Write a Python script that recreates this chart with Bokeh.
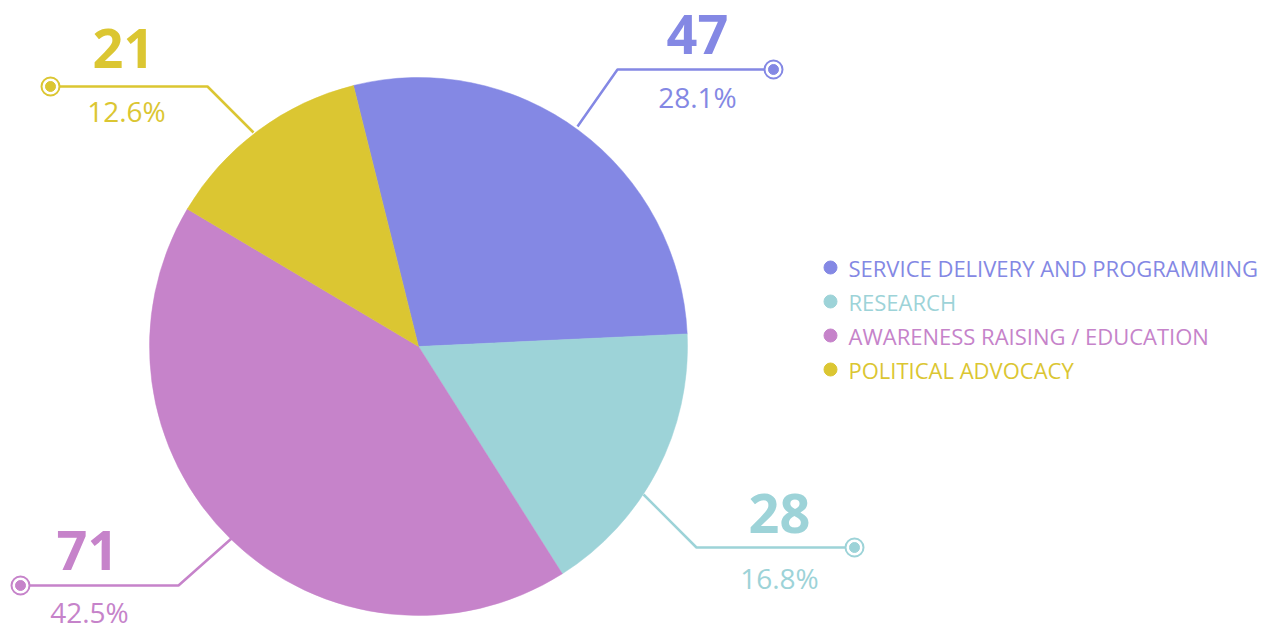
import math
from bokeh.plotting import figure
from bokeh.models import Range1d, ColumnDataSource
from bokeh.core.properties import value
from bokeh.embed import file_html
from bokeh.resources import INLINE

# ---- data ----
categories = ["SERVICE DELIVERY AND PROGRAMMING", "RESEARCH",
              "AWARENESS RAISING / EDUCATION", "POLITICAL ADVOCACY"]
counts = [47, 28, 71, 21]
colors = ["#8488e4", "#9dd3d8", "#c683ca", "#dbc632"]

total = sum(counts)
pcts = [f"{c / total * 100:.1f}%" for c in counts]

# ---- layout (picture pixel coordinates) ----
W, H = 1270, 627
def Y(y):
    return H - y

cx, cy, R = 418, 346, 269
start_deg = 346.0  # clockwise from top

p = figure(width=W, height=H, output_backend="svg", toolbar_location=None,
           x_range=Range1d(0, W), y_range=Range1d(0, H),
           min_border=0, outline_line_color=None)
p.axis.visible = False
p.grid.visible = False
p.background_fill_color = "white"

# pie wedges
starts, ends = [], []
acc = start_deg
for c in counts:
    a0 = acc
    a1 = acc + c / total * 360.0
    starts.append(math.radians(90 - a0))
    ends.append(math.radians(90 - a1))
    acc = a1
src = ColumnDataSource(dict(x=[cx] * 4, y=[Y(cy)] * 4, s=starts, e=ends, color=colors))
p.wedge(x="x", y="y", radius=R, start_angle="s", end_angle="e", direction="clock",
        fill_color="color", line_color="color", line_width=0.5, source=src)

# leader lines: (edge point, corner, end point) per category
leaders = [
    [(577, 126), (617, 69), (773, 69)],
    [(643, 494), (696, 547), (854, 547)],
    [(231, 538), (178, 585), (20, 585)],
    [(253, 132), (207, 86), (50, 86)],
]
num_pos = [(697, 34), (779, 513), (87, 550), (123, 48)]
pct_pos = [(697, 96), (779, 577), (89, 611), (126, 110)]

for pts, col in zip(leaders, colors):
    p.line([q[0] for q in pts], [Y(q[1]) for q in pts], line_color=col, line_width=2.5)
    ex, ey = pts[-1]
    p.scatter([ex], [Y(ey)], size=18, fill_color="white", line_color=col, line_width=2)
    p.scatter([ex], [Y(ey)], size=10, fill_color=col, line_color=col)

p.text(x=[q[0] for q in num_pos], y=[Y(q[1]) for q in num_pos],
       text=[str(c) for c in counts], text_color=colors,
       text_font=value("Open Sans"), text_font_style="bold", text_font_size="54px",
       text_align="center", text_baseline="middle")
p.text(x=[q[0] for q in pct_pos], y=[Y(q[1]) for q in pct_pos],
       text=pcts, text_color=colors,
       text_font=value("Open Sans"), text_font_size="28px",
       text_align="center", text_baseline="middle")

# legend
leg_y = [267, 301, 335, 369]
p.scatter([830] * 4, [Y(v) for v in leg_y], size=13, fill_color=colors, line_color=colors)
p.text(x=[848] * 4, y=[Y(v) for v in leg_y], text=categories, text_color=colors,
       text_font=value("Open Sans"), text_font_size="22px",
       text_align="left", text_baseline="middle")

open("out.html", "w").write(file_html(p, INLINE))
